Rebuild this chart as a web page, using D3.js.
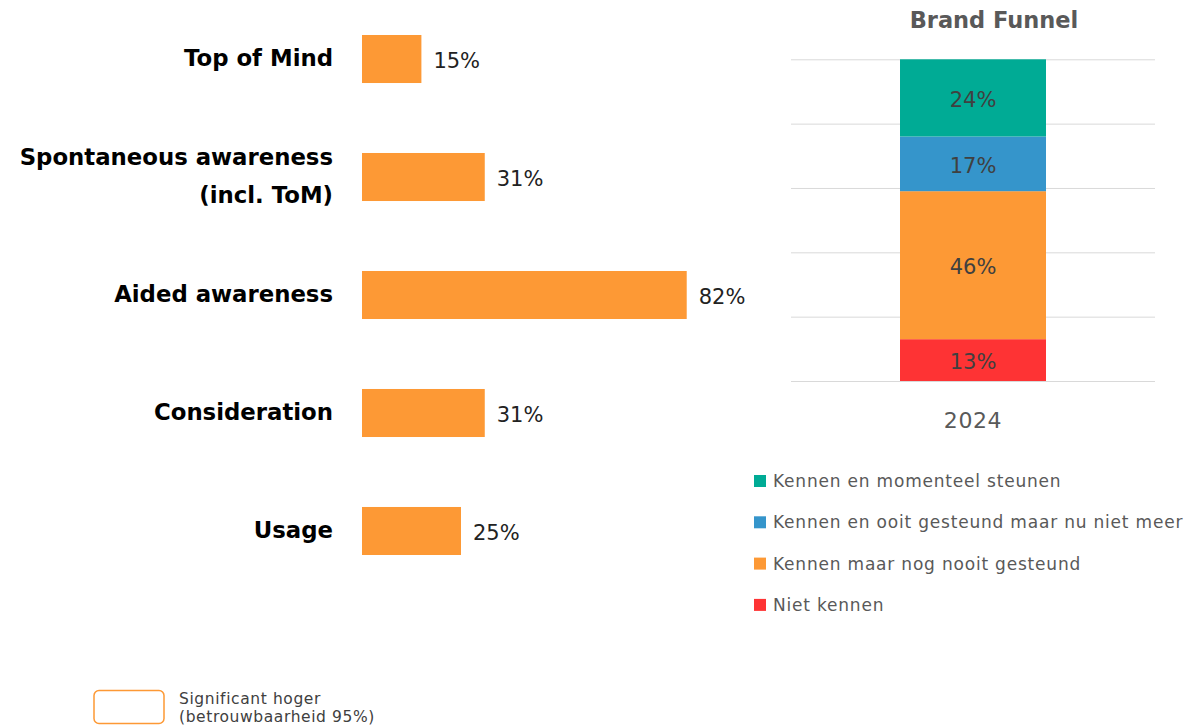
<!DOCTYPE html>
<html>
<head>
<meta charset="utf-8">
<script src="https://cdn.jsdelivr.net/npm/d3@7"></script>
<style>
  html, body { margin: 0; padding: 0; background: #fff; }
  svg { display: block; font-family: "DejaVu Sans", sans-serif; }
</style>
</head>
<body>
<svg id="chart" width="1195" height="726"></svg>
<script>
// Awareness bars (left)
const awarenessCategories = [
  "Top of Mind",
  "Spontaneous awareness\n(incl. ToM)",
  "Aided awareness",
  "Consideration",
  "Usage"
];
const awarenessValues = [15, 31, 82, 31, 25];

// Brand funnel (right), listed top to bottom
const funnelYears = ["2024"];
const funnelSeries = [
  "Kennen en momenteel steunen",
  "Kennen en ooit gesteund maar nu niet meer",
  "Kennen maar nog nooit gesteund",
  "Niet kennen"
];
const funnelValues = [24, 17, 46, 13];
const funnelColors = ["#00ab95", "#3595cb", "#fd9935", "#fe3334"];
const funnelTicks = [0, 20, 40, 60, 80, 100];

const barColor = "#fd9935";
const svg = d3.select("#chart");

// ---------- Left: horizontal bars ----------
const x = d3.scaleLinear().domain([0, 100]).range([362, 758]);
const y = d3.scaleBand()
  .domain(awarenessCategories)
  .range([0, 590])
  .paddingInner(0.593)
  .paddingOuter(0.2966);

const left = svg.append("g");
const rows = left.selectAll("g.row")
  .data(awarenessCategories.map((c, i) => ({ c, v: awarenessValues[i] })))
  .join("g").attr("class", "row");

rows.append("rect")
  .attr("x", x(0))
  .attr("y", d => y(d.c))
  .attr("width", d => x(d.v) - x(0))
  .attr("height", y.bandwidth())
  .attr("fill", barColor);

rows.append("text")
  .attr("x", d => x(d.v) + 12)
  .attr("y", d => y(d.c) + y.bandwidth() / 2 + 1)
  .attr("dy", "0.36em")
  .attr("font-size", 21)
  .attr("fill", "#222")
  .text(d => d.v + "%");

rows.each(function(d) {
  const lines = d.c.split("\n");
  const cy = y(d.c) + y.bandwidth() / 2;
  const lh = 38;
  const t = d3.select(this).append("text")
    .attr("text-anchor", "end")
    .attr("font-size", 22.8)
    .attr("font-weight", "bold")
    .attr("fill", "#000");
  lines.forEach((ln, k) => {
    t.append("tspan")
      .attr("x", 333)
      .attr("y", cy - 1 + (k - (lines.length - 1) / 2) * lh)
      .attr("dy", "0.36em")
      .text(ln);
  });
});

// ---------- Right: Brand Funnel stacked column ----------
const fx = d3.scaleBand().domain(funnelYears).range([791, 1155])
  .paddingInner(0.4275).paddingOuter(0.4275);
const fy = d3.scaleLinear().domain([0, 100]).range([381, 59.3]);

const right = svg.append("g");

right.append("text")
  .attr("x", 994)
  .attr("y", 28)
  .attr("text-anchor", "middle")
  .attr("font-size", 22.5)
  .attr("font-weight", "bold")
  .attr("fill", "#595959")
  .text("Brand Funnel");

const yAxis = d3.axisLeft(fy).tickValues(funnelTicks).tickSize(-(1155 - 791)).tickFormat("");
right.append("g")
  .attr("transform", "translate(791,0)")
  .call(yAxis)
  .call(g => g.select(".domain").remove())
  .call(g => g.selectAll(".tick line").attr("stroke", "#d9d9d9").attr("stroke-width", 1));

const stackRow = Object.fromEntries(funnelSeries.map((s, i) => [s, funnelValues[i]]));
stackRow.year = funnelYears[0];
const stacked = d3.stack().keys(funnelSeries.slice().reverse())([stackRow]);
const color = d3.scaleOrdinal().domain(funnelSeries).range(funnelColors);

const layers = right.selectAll("g.layer").data(stacked).join("g").attr("class", "layer");
layers.selectAll("rect")
  .data(s => s.map(d => ({ key: s.key, d })))
  .join("rect")
  .attr("x", e => fx(e.d.data.year))
  .attr("width", fx.bandwidth())
  .attr("y", e => fy(e.d[1]))
  .attr("height", e => fy(e.d[0]) - fy(e.d[1]))
  .attr("fill", e => color(e.key));
layers.selectAll("text")
  .data(s => s.map(d => ({ key: s.key, d })))
  .join("text")
  .attr("x", e => fx(e.d.data.year) + fx.bandwidth() / 2)
  .attr("y", e => (fy(e.d[0]) + fy(e.d[1])) / 2 + 1.5)
  .attr("dy", "0.36em")
  .attr("text-anchor", "middle")
  .attr("font-size", 21)
  .attr("fill", "#404040")
  .text(e => (e.d[1] - e.d[0]) + "%");

// category axis label
const xAxis = d3.axisBottom(fx).tickSize(0).tickPadding(0);
right.append("g")
  .attr("transform", "translate(0,381)")
  .call(xAxis)
  .call(g => g.select(".domain").remove())
  .call(g => g.selectAll(".tick text")
    .attr("y", 39)
    .attr("dy", "0.36em")
    .attr("font-family", "DejaVu Sans, sans-serif")
    .attr("font-size", 22)
    .attr("letter-spacing", 0.6)
    .attr("fill", "#595959"));

// legend
const legend = right.selectAll("g.leg").data(funnelSeries).join("g")
  .attr("class", "leg")
  .attr("transform", (d, i) => `translate(754,${481 + i * 41.3})`);
legend.append("rect")
  .attr("x", 0).attr("y", -6).attr("width", 12).attr("height", 12)
  .attr("fill", d => color(d));
legend.append("text")
  .attr("x", 19).attr("y", 0).attr("dy", "0.36em")
  .attr("font-size", 17)
  .attr("letter-spacing", 0.8)
  .attr("fill", "#595959")
  .text(d => d);

// ---------- Bottom: significance key ----------
const key = svg.append("g");
key.append("rect")
  .attr("x", 94).attr("y", 690.5).attr("width", 70).attr("height", 33)
  .attr("rx", 5)
  .attr("fill", "none")
  .attr("stroke", "#fd9935")
  .attr("stroke-width", 1.5);
key.append("text")
  .attr("font-size", 15.5)
  .attr("letter-spacing", 0.6)
  .attr("fill", "#404040")
  .selectAll("tspan")
  .data(["Significant hoger", "(betrouwbaarheid 95%)"])
  .join("tspan")
  .attr("x", 179)
  .attr("y", (d, i) => 698 + i * 18.5)
  .attr("dy", "0.36em")
  .text(d => d);
</script>
</body>
</html>
